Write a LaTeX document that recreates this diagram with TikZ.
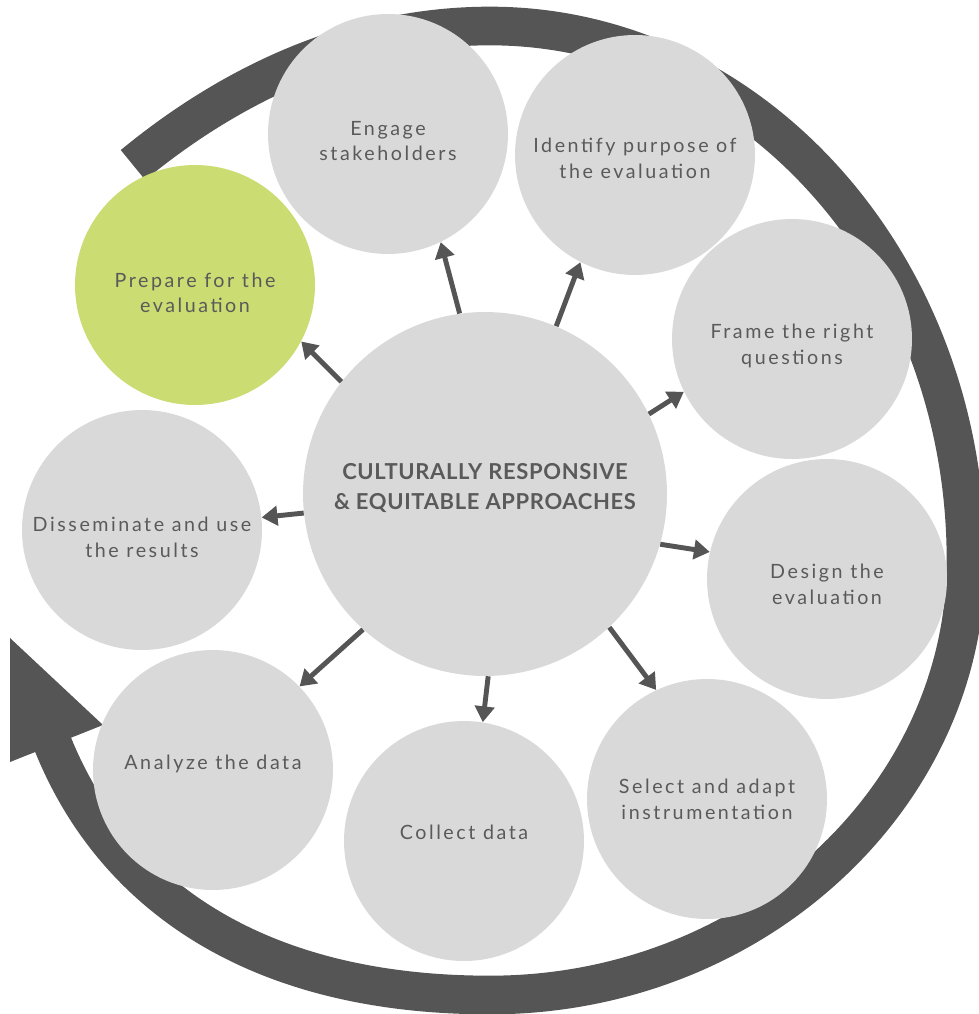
\documentclass[tikz,border=0pt]{standalone}
\usepackage{fontspec}
\setmainfont{Lato}
\newfontfamily\lblfont[LetterSpace=13]{Lato}
\newfontfamily\ttlfont[LetterSpace=3]{Lato}
\usetikzlibrary{arrows.meta}
\definecolor{ringgray}{HTML}{555555}
\definecolor{bubble}{HTML}{D9D9D9}
\definecolor{lime}{HTML}{CBDC73}
\definecolor{txt}{HTML}{5A5A5A}
\begin{document}
\begin{tikzpicture}[x=0.02cm,y=-0.02cm,
  bub/.style={circle, fill=bubble, minimum size=4.8cm, inner sep=0pt},
  hub/.style={circle, fill=bubble, minimum size=7.28cm, inner sep=0pt},
  lbl/.style={align=center, text=txt, inner sep=0pt,
              font=\lblfont\fontsize{11.2}{14.7}\selectfont},
  ttl/.style={align=center, text=txt, inner sep=0pt,
              font=\ttlfont\bfseries\fontsize{12.5}{17}\selectfont},
  arr/.style={draw=ringgray, line width=2.8pt, -{Triangle[length=9pt,width=11pt]}},
  ring/.style={draw=ringgray, line width=22pt}]
\useasboundingbox (0,0) rectangle (979,1014);
% cycle ring
\draw[ring] (133,165) .. controls (218,95) and (340,26) .. (490,26)
  .. controls (753,26) and (966,265) .. (966,560)
  .. controls (966,800) and (751,995) .. (490,995)
  .. controls (240,995) and (107,881) .. (52,742);
\fill[ringgray] (10,638) -- (103,725) -- (10,762) -- cycle;
% bubbles
\node[hub, label={[ttl, yshift=3.4pt]center:CULTURALLY RESPONSIVE\\\& EQUITABLE APPROACHES}] (C) at (485,494) {};
\node[bub, fill=lime, label={[lbl, yshift=-4.5pt]center:Prepare for the\\evaluation}] (P) at (195,285) {};
\node[bub, label={[lbl, yshift=-4pt]center:Engage\\stakeholders}] (E) at (388,134) {};
\node[bub, label={[lbl, yshift=-2pt]center:Identify purpose of\\the evaluation}] (I) at (635,155) {};
\node[bub, label={[lbl, yshift=-4pt]center:Frame the right\\questions}] (F) at (792,339) {};
\node[bub, label={[lbl, yshift=-3pt]center:Design the\\evaluation}] (D) at (827,579) {};
\node[bub, label={[lbl]center:Select and adapt\\instrumentation}] (S) at (707,799) {};
\node[bub, label={[lbl, yshift=5pt]center:Collect data}] (K) at (464,841) {};
\node[bub, label={[lbl, yshift=3.4pt]center:Analyze the data}] (A) at (213,770) {};
\node[bub, label={[lbl, yshift=-4pt]center:Disseminate and use\\the results}] (U) at (142,530) {};
% arrows
\draw[arr] (C.142) -- (P.-28.5);
\draw[arr] (C.98) -- (E.-64);
\draw[arr] (C.67) -- (I.-117);
\draw[arr] (C.26) -- (F.-154);
\draw[arr] (C.-16) -- (D.167);
\draw[arr] (C.-47) -- (S.115);
\draw[arr] (C.-89) -- (K.81);
\draw[arr] (C.-132) -- (A.44);
\draw[arr] (C.-174) -- (U.6);
\end{tikzpicture}
\end{document}
